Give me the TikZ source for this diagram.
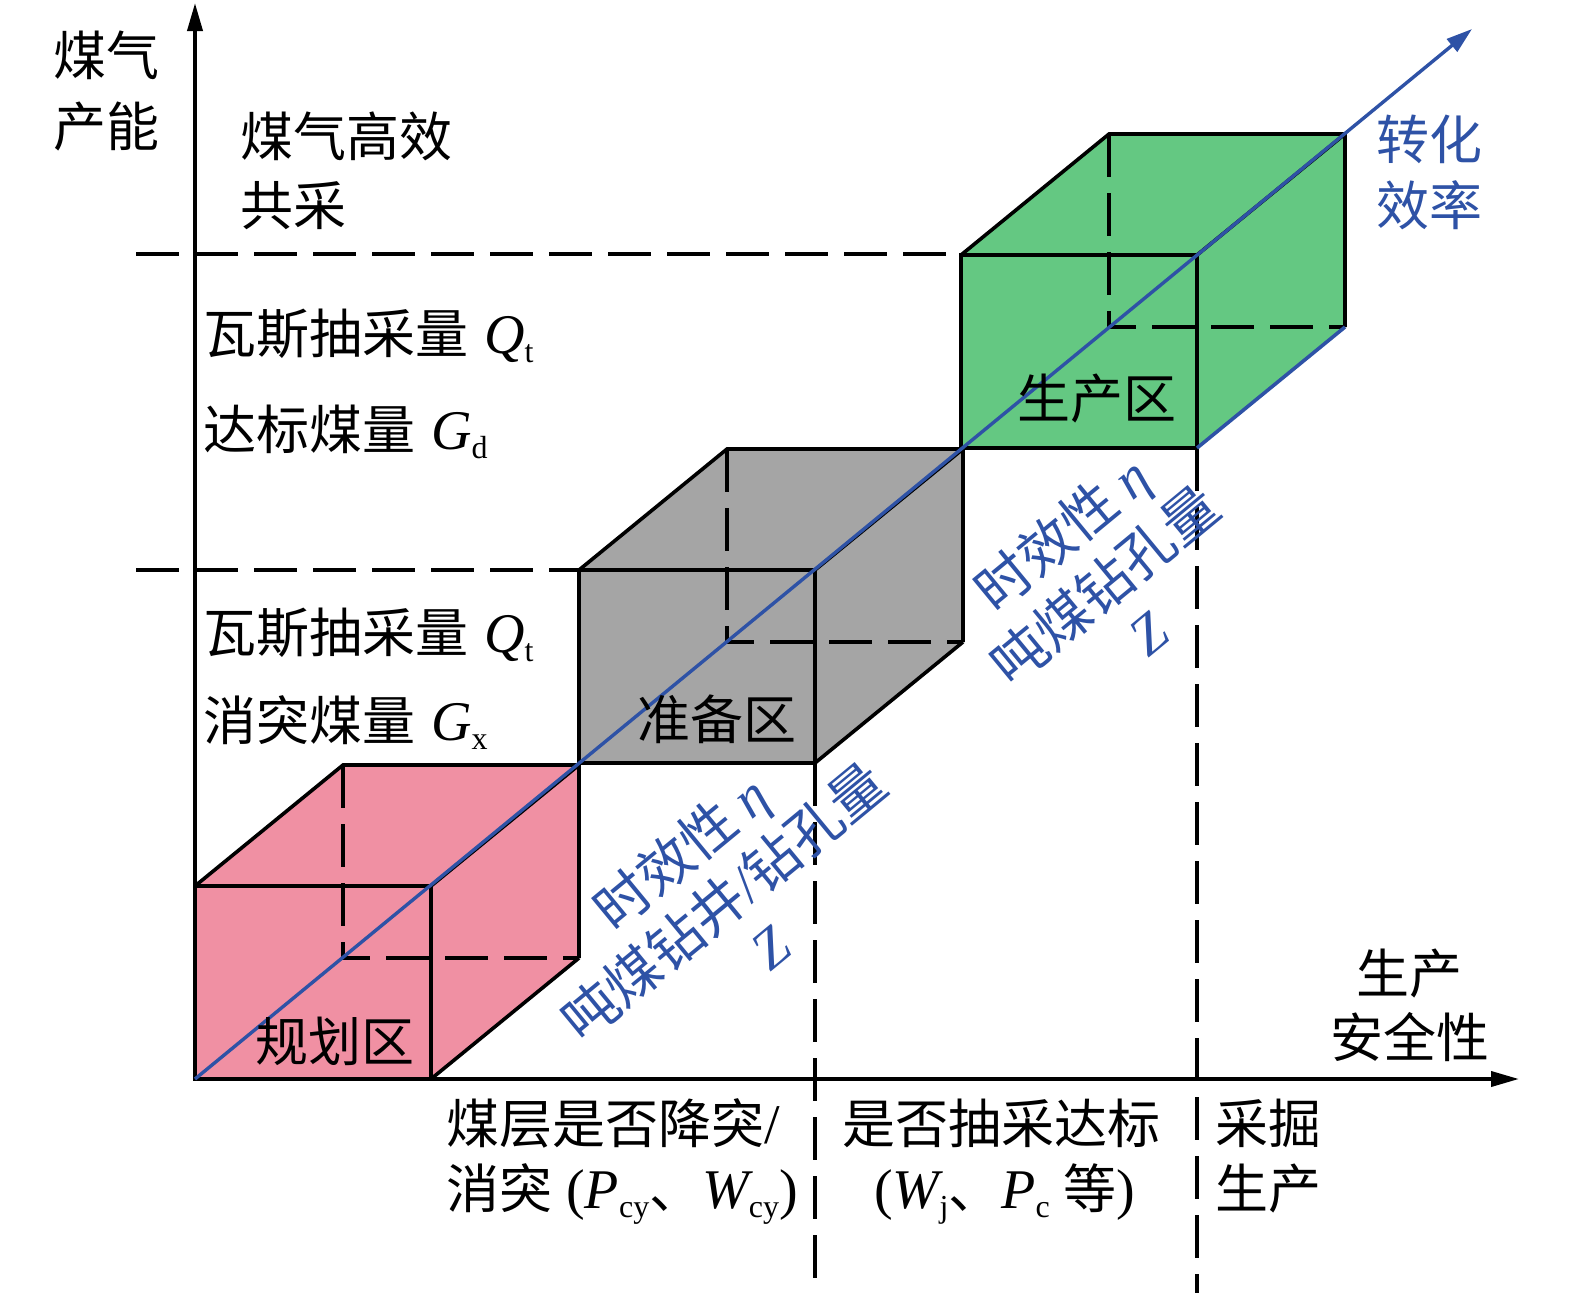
\documentclass[tikz,border=0pt]{standalone}
\usepackage{fontspec}
\setmainfont{Liberation Serif}
\newfontfamily\cjk{Noto Sans CJK SC}
\usetikzlibrary{arrows.meta}
\definecolor{pinkfill}{RGB}{240,144,163}
\definecolor{grayfill}{RGB}{165,165,165}
\definecolor{greenfill}{RGB}{100,200,130}
\definecolor{lineblue}{RGB}{46,82,166}
\newcommand\sbs[1]{\raisebox{-9pt}{\rmfamily\upshape\fontsize{32pt}{32pt}\selectfont #1}}
\newcommand\latit[1]{{\rmfamily\fontsize{56pt}{56pt}\selectfont\itshape #1}}
\newcommand\rmp[1]{{\rmfamily\fontsize{56pt}{56pt}\selectfont #1}}
\newcommand\cuboid[4]{%
  \fill[#3] (#1,#2) -- (#1,#2-193) -- (#1+148,#2-314) -- (#1+384,#2-314) -- (#1+384,#2-121) -- (#1+236,#2) -- cycle;
  \draw[hid] (#1+148,#2-314) -- (#1+148,#2-121) -- (#1+384,#2-121);
  \draw[edge] (#1,#2) rectangle (#1+236,#2-193);
  \draw[edge] (#1,#2-193) -- (#1+148,#2-314) -- (#1+384,#2-314) -- (#1+384,#2-121);
  \draw[edge] (#1+236,#2-193) -- (#1+384,#2-314);
  \draw[edge,draw=#4] (#1+236,#2) -- (#1+384,#2-121);
}
\begin{document}
\begin{tikzpicture}[x=1pt,y=-1pt,
  edge/.style={line width=3.6pt, line join=miter},
  hid/.style={line width=3.2pt, dash pattern=on 43pt off 16pt},
  axis/.style={line width=3.8pt, -{Triangle[length=28pt,width=15pt]}},
  diag/.style={draw=lineblue, line width=3.4pt, -{Triangle[length=26pt,width=16pt]}},
  txt/.style={inner sep=0pt, font=\cjk\fontsize{53pt}{60pt}\selectfont, text height=40pt, text depth=0pt},
  rtxt/.style={txt, font=\cjk\fontsize{55pt}{60pt}\selectfont, text=lineblue, rotate=39.5},
]
\useasboundingbox (0,0) rectangle (1575,1293);

% guide lines
\draw[hid] (136,254) -- (961,254);
\draw[hid] (136,570) -- (579,570);
\draw[hid] (815,763) -- (815,1293);
\draw[hid] (1197,448) -- (1197,1293);

% boxes
\cuboid{195}{1079}{pinkfill}{black}
\cuboid{579}{763}{grayfill}{black}
\cuboid{961}{448}{greenfill}{lineblue}

% axes
\coordinate (O) at (195,1079);
\coordinate (ytip) at (195,3);
\coordinate (xtip) at (1519,1079);
\coordinate (etip) at (1472,29);
\draw[axis] (O) -- (ytip);
\draw[axis] (O) -- (xtip);
\draw[diag] (O) -- (etip);

% labels
\node[txt,anchor=west] (ya) at (53,55) {煤气};
\node[txt,anchor=west] (yb) at (53,126) {产能};
\node[txt,anchor=west] (ga) at (240,136) {煤气高效};
\node[txt,anchor=west] (gb) at (240,205) {共采};
\node[txt,anchor=west] (q1) at (203,333) {瓦斯抽采量 \hspace{4pt}\latit{Q}\sbs{t}};
\node[txt,anchor=west] (gd) at (203,429) {达标煤量 \hspace{4pt}\latit{G}\sbs{d}};
\node[txt,anchor=west] (q2) at (203,632) {瓦斯抽采量 \hspace{4pt}\latit{Q}\sbs{t}};
\node[txt,anchor=west] (gx) at (203,720) {消突煤量 \hspace{4pt}\latit{G}\sbs{x}};
\node[txt] (plan) at (335,1041) {规划区};
\node[txt] (prep) at (717,719) {准备区};
\node[txt] (prod) at (1097,398) {生产区};
\node[txt,anchor=west,text=lineblue] (ea) at (1376,139) {转化};
\node[txt,anchor=west,text=lineblue] (eb) at (1376,205) {效率};
\node[txt] (sa) at (1409,973) {生产};
\node[txt] (sb) at (1410,1037) {安全性};
\node[txt,anchor=west] (ma) at (1215,1123) {采掘};
\node[txt,anchor=west] (mb) at (1215,1188) {生产};
\node[txt,anchor=west] (ba) at (446,1123) {煤层是否降突\rmp{/}};
\node[txt,anchor=west] (bb) at (446,1188) {消突\rmp{ (}\latit{P}\sbs{cy}、\latit{W}\sbs{cy}\rmp{)}};
\node[txt,anchor=west] (ca) at (842,1123) {是否抽采达标};
\node[txt,anchor=west] (cb) at (874,1188) {\rmp{(}\latit{W}\sbs{j}、\latit{P}\sbs{c}\rmp{ }等\rmp{)}};

% rotated blue labels
\node[rtxt] (r1a) at (681,853) {时效性 \latit{η}};
\node[rtxt] (r1b) at (724,902) {吨煤钻井\rmp{/}钻孔量};
\node[rtxt] (r1c) at (770,947) {\latit{Z}};
\node[rtxt] (r2a) at (1062,534) {时效性 \latit{η}};
\node[rtxt] (r2b) at (1105,586) {吨煤钻孔量};
\node[rtxt] (r2c) at (1148,633) {\latit{Z}};
\end{tikzpicture}
\end{document}
